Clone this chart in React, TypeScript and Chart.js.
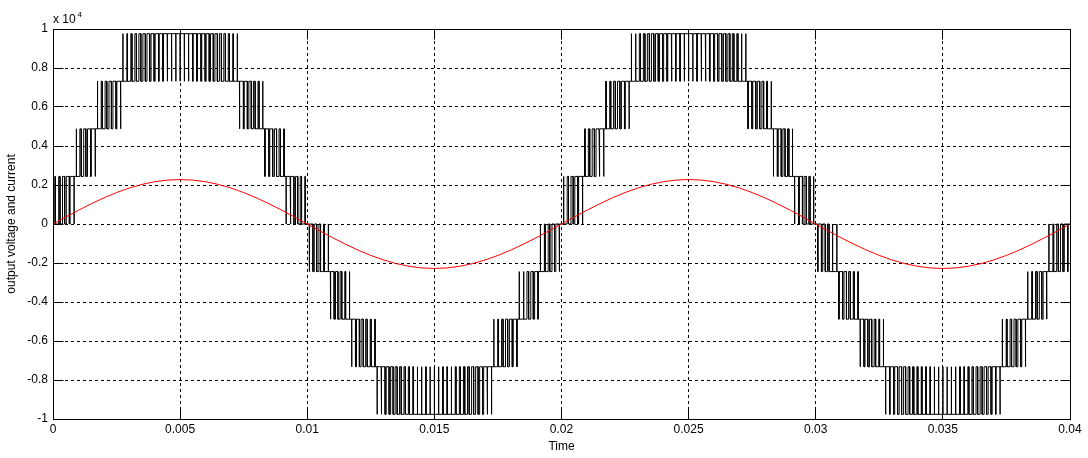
import React, { useEffect, useRef } from 'react';
import { Chart, registerables } from 'chart.js';

Chart.register(...registerables);

// ---- axis ticks ----
const xTickValues = [0, 0.005, 0.01, 0.015, 0.02, 0.025, 0.03, 0.035, 0.04];
const xTickLabels = ['0', '0.005', '0.01', '0.015', '0.02', '0.025', '0.03', '0.035', '0.04'];
const yTickValues = [-10000, -8000, -6000, -4000, -2000, 0, 2000, 4000, 6000, 8000, 10000];
const yTickLabels = ['-1', '-0.8', '-0.6', '-0.4', '-0.2', '0', '0.2', '0.4', '0.6', '0.8', '1'];

// ---- output voltage (multilevel PWM) ----
// voltage of one level step
const levelStep = 2440;
// half-cycle starts and polarity
const halfCycleStarts = [0, 0.01, 0.02, 0.03];
const halfCycleSigns = [1, -1, 1, -1];
const halfCycleLength = 0.01;
// modulation (in level units) for each carrier period of a half-cycle
const halfCycleModulation = [
  0.10, 0.31, 0.52, 0.72, 0.92, 1.12, 1.32, 1.51, 1.70, 1.89, 2.06, 2.24, 2.40, 2.57, 2.72,
  2.87, 3.03, 3.13, 3.26, 3.37, 3.47, 3.57, 3.65, 3.72, 3.79, 3.84, 3.88, 3.92, 3.94, 3.95,
  3.95, 3.94, 3.92, 3.88, 3.84, 3.79, 3.72, 3.65, 3.57, 3.47, 3.37, 3.26, 3.13, 3.03, 2.87,
  2.72, 2.57, 2.40, 2.24, 2.06, 1.89, 1.70, 1.51, 1.32, 1.12, 0.92, 0.72, 0.52, 0.31, 0.10,
];

// ---- output current (sampled every 0.0005 s) ----
const currentStep = 0.0005;
const currentValues = [
  0, 357, 705, 1035, 1340, 1612, 1845, 2031, 2168, 2252, 2280,
  2252, 2168, 2031, 1845, 1612, 1340, 1035, 705, 357, 0,
  -357, -705, -1035, -1340, -1612, -1845, -2031, -2168, -2252, -2280,
  -2252, -2168, -2031, -1845, -1612, -1340, -1035, -705, -357, 0,
  357, 705, 1035, 1340, 1612, 1845, 2031, 2168, 2252, 2280,
  2252, 2168, 2031, 1845, 1612, 1340, 1035, 705, 357, 0,
  -357, -705, -1035, -1340, -1612, -1845, -2031, -2168, -2252, -2280,
  -2252, -2168, -2031, -1845, -1612, -1340, -1035, -705, -357, 0,
];

function buildVoltagePoints() {
  const pts: { x: number; y: number }[] = [{ x: 0, y: 0 }];
  let cur = 0;
  const n = halfCycleModulation.length;
  const Tc = halfCycleLength / n;
  halfCycleStarts.forEach((t0, h) => {
    const s = halfCycleSigns[h];
    halfCycleModulation.forEach((m, i) => {
      const k = Math.floor(m + 1e-9);
      const d = m - k;
      const ts = t0 + i * Tc;
      const tc = ts + Tc / 2;
      const lo = s * k * levelStep;
      const hi = s * (k + 1) * levelStep;
      if (cur !== lo) {
        pts.push({ x: ts, y: cur });
        pts.push({ x: ts, y: lo });
        cur = lo;
      }
      if (d > 0.001) {
        const a = tc - (d * Tc) / 2;
        const b = tc + (d * Tc) / 2;
        pts.push({ x: a, y: lo }, { x: a, y: hi }, { x: b, y: hi }, { x: b, y: lo });
      }
    });
  });
  pts.push({ x: 0.04, y: cur });
  return pts;
}

const FONT = '"Liberation Sans", Arial, sans-serif';

const align = (p: number) => Math.round(p - 0.5) + 0.5;

const matlabAxes = {
  id: 'matlabAxes',
  afterDraw(chart: any) {
    const { ctx, chartArea: a, scales } = chart;
    const L = align(a.left), R = align(a.right), T = align(a.top), B = align(a.bottom);
    ctx.save();
    ctx.strokeStyle = '#000';
    ctx.lineWidth = 1;
    ctx.setLineDash([]);
    ctx.beginPath();
    const tl = 10;
    xTickValues.forEach((v) => {
      const px = align(scales.x.getPixelForValue(v));
      ctx.moveTo(px, B); ctx.lineTo(px, B - tl);
      ctx.moveTo(px, T); ctx.lineTo(px, T + tl);
    });
    yTickValues.forEach((v) => {
      const py = align(scales.y.getPixelForValue(v));
      ctx.moveTo(L, py); ctx.lineTo(L + tl, py);
      ctx.moveTo(R, py); ctx.lineTo(R - tl, py);
    });
    ctx.stroke();
    ctx.strokeRect(L, T, R - L, B - T);
    ctx.fillStyle = '#000';
    ctx.textBaseline = 'alphabetic';
    ctx.textAlign = 'left';
    ctx.font = `12px ${FONT}`;
    ctx.fillText('x 10', L - 0.5, 23);
    ctx.font = `8px ${FONT}`;
    ctx.fillText('4', L + 24, 17);
    ctx.restore();
  },
};

export default function App() {
  const ref = useRef<HTMLCanvasElement | null>(null);
  useEffect(() => {
    if (!ref.current) return;
    const voltage = buildVoltagePoints();
    const current = currentValues.map((v, i) => ({ x: i * currentStep, y: v }));
    const chart = new Chart(ref.current, {
      type: 'line',
      data: {
        datasets: [
          {
            label: 'current',
            data: current,
            borderColor: '#ff0000',
            borderWidth: 1,
            pointRadius: 0,
            tension: 0,
            fill: false,
            order: 0,
          },
          {
            label: 'voltage',
            data: voltage,
            borderColor: '#000000',
            borderWidth: 1,
            pointRadius: 0,
            tension: 0,
            fill: false,
            order: 1,
          },
        ],
      },
      options: {
        animation: false,
        responsive: true,
        maintainAspectRatio: false,
        events: [],
        layout: { padding: { top: 29, right: 18, left: 0, bottom: 0 } },
        plugins: { legend: { display: false }, tooltip: { enabled: false } },
        scales: {
          x: {
            type: 'linear',
            min: 0,
            max: 0.04,
            afterBuildTicks: (s: any) => {
              s.ticks = xTickValues.map((v) => ({ value: v }));
            },
            afterFit: (s: any) => {
              s.height = 39;
            },
            ticks: {
              callback: (_v: any, i: number) => xTickLabels[i],
              font: { family: FONT, size: 12 },
              color: '#000',
              padding: 3,
              maxRotation: 0,
              autoSkip: false,
            },
            grid: { color: '#000', lineWidth: 1, drawTicks: false },
            border: { display: false, dash: [3, 3] },
            title: {
              display: true,
              text: 'Time',
              font: { family: FONT, size: 12 },
              color: '#000',
              padding: { top: 0, bottom: 4 },
            },
          },
          y: {
            type: 'linear',
            min: -10000,
            max: 10000,
            afterBuildTicks: (s: any) => {
              s.ticks = yTickValues.map((v) => ({ value: v }));
            },
            afterFit: (s: any) => {
              s.width = 53;
            },
            ticks: {
              callback: (_v: any, i: number) => yTickLabels[i],
              font: { family: FONT, size: 12 },
              color: '#000',
              padding: 5,
              autoSkip: false,
            },
            grid: { color: '#000', lineWidth: 1, drawTicks: false },
            border: { display: false, dash: [3, 3] },
            title: {
              display: true,
              text: 'output voltage and current',
              font: { family: FONT, size: 12 },
              color: '#000',
              padding: { top: 4, bottom: 0 },
            },
          },
        },
      },
      plugins: [matlabAxes],
    });
    return () => chart.destroy();
  }, []);
  return (
    <div style={{ position: 'fixed', left: 0, top: 0, width: 1088, height: 458, background: '#fff' }}>
      <canvas ref={ref} />
    </div>
  );
}
